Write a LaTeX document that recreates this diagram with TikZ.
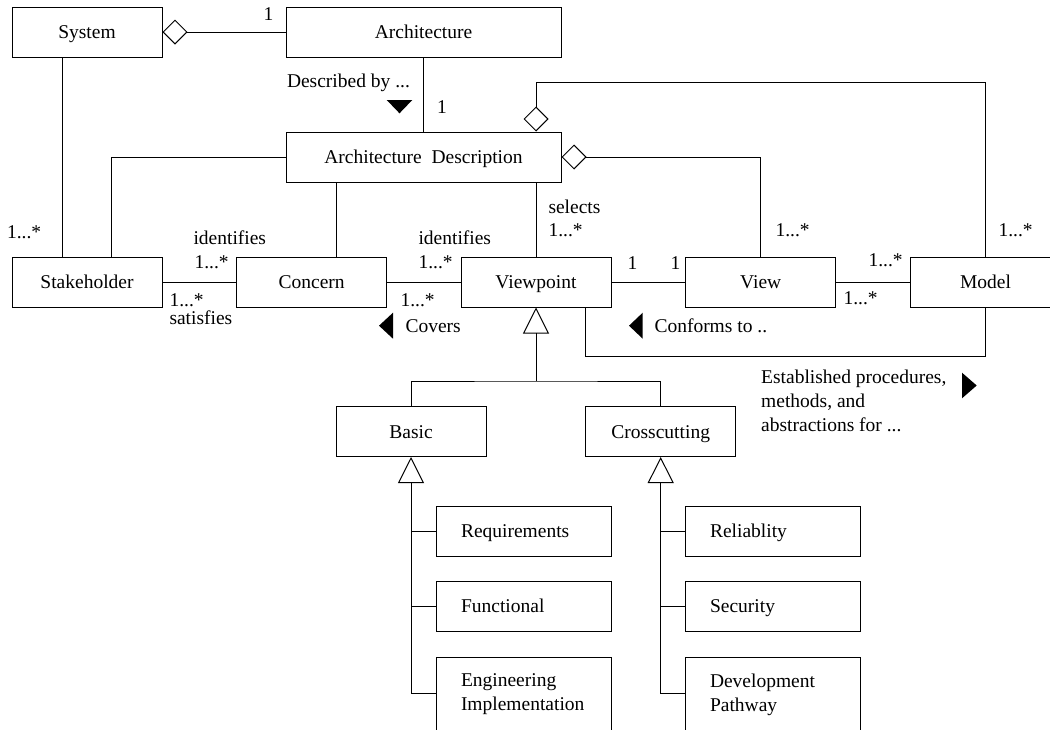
\documentclass[tikz,border=0pt]{standalone}
\usepackage{fontspec}
\setmainfont{Liberation Serif}
\usetikzlibrary{arrows.meta,calc}
\begin{document}
\begin{tikzpicture}[x=1pt,y=-1pt,
  font=\fontsize{19.5}{24}\selectfont,
  line width=1pt,
  cls/.style={draw,inner sep=0pt,minimum height=50pt,text height=13.4pt,text depth=0pt},
  leaf/.style={draw,inner xsep=25pt,inner ysep=0pt,text width=125pt,align=left,minimum height=50pt},
  one/.style={text height=13.4pt,text depth=0pt},
  lbl/.style={inner sep=0pt,anchor=west},
  agg/.style={{Diamond[open,length=25pt,width=25pt]}-},
  gen/.style={{Triangle[open,length=26pt,width=26pt]}-},
  flag/.style={fill=black,draw=none}
]
\useasboundingbox (0,0) rectangle (1050,729);
\clip (0,0) rectangle (1050,729);

% classes
\node[cls,minimum width=150pt] (sys) at (87,32) {System};
\node[cls,minimum width=275pt] (arch) at (423.5,32) {Architecture};
\node[cls,minimum width=275pt] (ad) at (423.5,157) {Architecture\ \ Description};
\node[cls,minimum width=150pt] (stk) at (87,282) {Stakeholder};
\node[cls,minimum width=150pt] (con) at (311.7,282) {Concern};
\node[cls,minimum width=150pt] (vp) at (536,282) {Viewpoint};
\node[cls,minimum width=150pt] (view) at (760.7,282) {View};
\node[cls,minimum width=151pt] (model) at (985.5,282) {Model};
\node[cls,minimum width=150pt] (basic) at (411,431.5) {Basic};
\node[cls,minimum width=150pt] (cross) at (660.7,431.5) {Crosscutting};
\node[leaf,one] (req) at (523.5,531) {Requirements};
\node[leaf,one] (fun) at (523.5,606) {Functional};
\node[leaf,minimum height=75pt] (eng) at (523.5,694.5) {Engineering\\Implementation};
\node[leaf,one] (rel) at (772.5,531) {Reliablity};
\node[leaf,one] (sec) at (772.5,606) {Security};
\node[leaf,minimum height=75pt] (dev) at (772.5,694.5) {Development\\Pathway};

% connectors
\draw[agg] (sys.east) -- (arch.west);
\draw (arch) -- (ad);
\coordinate (top) at (536,82.3);
\draw[agg] (ad.north -| vp.north) -- (top) -| (model.north);
\draw[agg] (ad.east) -| (view.north);
\draw (ad.south -| vp.north) -- (vp.north);
\coordinate (stkr) at ($(stk.north)+(24.7,0)$);
\draw (ad.west) -| (stkr);
\coordinate (sysl) at ($(sys.south)+(-25,0)$);
\draw (sysl) -- (sysl |- stk.north);
\coordinate (cx) at ($(con.north)+(24.3,0)$);
\draw (cx) -- (cx |- ad.south);
\draw (stk) -- (con);
\draw (con) -- (vp);
\draw (vp) -- (view);
\draw (view) -- (model);
\coordinate (j) at (536,381);
\draw[gen] (vp.south) -- (j);
\draw (basic.north) |- (j) -| (cross.north);
\coordinate (cfa) at ($(vp.south)+(49.7,0)$);
\draw (cfa) -- ++(0,49.3) -| (model.south);
\coordinate (bb) at (411,693);
\draw[gen] (basic.south) -- (bb) -- (bb -| eng.west);
\draw (basic.south |- req.west) -- (req.west);
\draw (basic.south |- fun.west) -- (fun.west);
\coordinate (cb) at (660.7,693);
\draw[gen] (cross.south) -- (cb) -- (cb -| dev.west);
\draw (cross.south |- rel.west) -- (rel.west);
\draw (cross.south |- sec.west) -- (sec.west);

% labels
\node[lbl] (l1) at (263,14) {1};
\node[lbl] (ldesc) at (286.5,83) {Described by ...};
\fill[flag] (386.7,100) -- (412.3,100) -- (399.5,113.3) -- cycle;
\node[lbl] (l2) at (436.5,107) {1};
\node[lbl] (l3) at (6.5,232) {1...*};
\node[lbl] (lid1) at (193,238) {identifies};
\node[lbl] (l4) at (194,262) {1...*};
\node[lbl] (l5) at (169,300) {1...*};
\node[lbl] (lsat) at (169,318) {satisfies};
\node[lbl] (lid2) at (418,238) {identifies};
\node[lbl] (l6) at (418,262) {1...*};
\node[lbl] (l7) at (400,300) {1...*};
\fill[flag] (379,325.7) -- (393,312.7) -- (393,338.7) -- cycle;
\node[lbl] (lcov) at (405,326) {Covers};
\node[lbl] (lsel) at (548,207) {selects};
\node[lbl] (l8) at (548,230) {1...*};
\node[lbl] (l9) at (627,263) {1};
\node[lbl] (l10) at (670,263) {1};
\node[lbl] (l11) at (775,230) {1...*};
\node[lbl] (l12) at (998,230) {1...*};
\node[lbl] (l13) at (868,260) {1...*};
\node[lbl] (l14) at (843,298) {1...*};
\fill[flag] (629,325.7) -- (642.7,312.7) -- (642.7,338.7) -- cycle;
\node[lbl] (lconf) at (654,326) {Conforms to ..};
\node[inner sep=0pt,anchor=north west,align=left] (lest) at (760.7,369) {Established procedures,\\methods, and\\abstractions for ...};
\fill[flag] (962,372.7) -- (976.7,385.5) -- (962,398.3) -- cycle;
\end{tikzpicture}
\end{document}
